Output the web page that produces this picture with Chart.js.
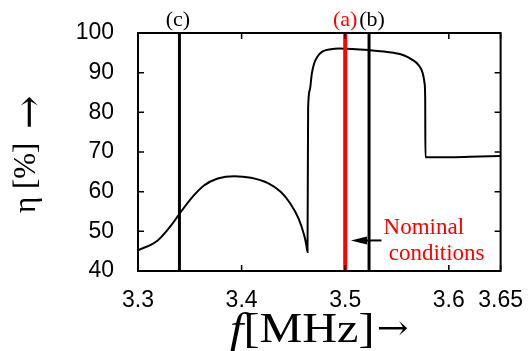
<!DOCTYPE html>
<html>
<head>
<meta charset="utf-8">
<script src="https://cdn.jsdelivr.net/npm/chart.js@4.4.1/dist/chart.umd.min.js"></script>
<style>
  html, body { margin: 0; padding: 0; background: #fff; }
  #wrap { width: 531px; height: 351px; }
</style>
</head>
<body>
<div id="wrap"><canvas id="effChart" width="531" height="351"></canvas></div>
<script>
// efficiency curve
const freq = [3.300, 3.319, 3.332, 3.340, 3.351, 3.364, 3.377, 3.393, 3.409, 3.425,
              3.438, 3.447, 3.455, 3.4604, 3.4625, 3.4636, 3.4642, 3.4658, 3.4678, 3.4700,
              3.4731, 3.4779, 3.4860, 3.4940, 3.523, 3.5468, 3.5564, 3.5644, 3.5708, 3.5749,
              3.5766, 3.5772, 3.5774, 3.600, 3.620, 3.650];
const eta  = [45.2, 47.7, 51.5, 54.4, 58.2, 61.6, 63.3, 63.9, 63.5, 62.2,
              59.9, 57.0, 53.2, 49.0, 46.5, 44.8, 81.0, 85.6, 89.8, 92.3,
              94.0, 95.3, 95.9, 96.1, 95.7, 95.0, 94.4, 93.3, 91.9, 89.8,
              87.3, 83.5, 68.7, 68.7, 68.8, 69.0];

// marker lines (a), (b), (c)
const markerLabels = ["(a)", "(b)", "(c)"];
const markerFreqs = [3.5, 3.523, 3.34];

const xTicks = [3.3, 3.4, 3.5, 3.6, 3.65];
const yMin = 40, yMax = 100, yStep = 10;

// annotation "Nominal conditions"
const noteLines = ["Nominal", "conditions"];
const noteFreqs = [3.537, 3.542];
const noteEtas = [49.4, 42.65];
const arrowFrom = 3.535, arrowTo = 3.5055, arrowEta = 47.7;

const curve = freq.map((f, i) => ({ x: f, y: eta[i] }));
const vline = f => [{ x: f, y: yMin }, { x: f, y: yMax }];

const serif = '"Liberation Serif", "Times New Roman", serif';
const arrowFont = '"DejaVu Serif", serif';
const sans = '"Liberation Sans", Arial, sans-serif';

const extras = {
  id: "extras",
  afterDraw(chart) {
    const { ctx, chartArea: a, scales: { x, y } } = chart;
    ctx.save();

    // inward ticks on all four sides
    ctx.strokeStyle = "#000";
    ctx.lineWidth = 1.5;
    ctx.beginPath();
    x.ticks.forEach(t => {
      const px = x.getPixelForValue(t.value);
      ctx.moveTo(px, a.bottom); ctx.lineTo(px, a.bottom - 6);
      ctx.moveTo(px, a.top); ctx.lineTo(px, a.top + 6);
    });
    y.ticks.forEach(t => {
      const py = y.getPixelForValue(t.value);
      ctx.moveTo(a.left, py); ctx.lineTo(a.left + 6, py);
      ctx.moveTo(a.right, py); ctx.lineTo(a.right - 6, py);
    });
    ctx.stroke();

    // frame
    ctx.lineWidth = 2;
    ctx.strokeRect(a.left, a.top, a.right - a.left, a.bottom - a.top);

    // marker labels above the frame
    ctx.font = "22px " + serif;
    ctx.textAlign = "center";
    ctx.textBaseline = "alphabetic";
    const labelShift = [0, 3, -1.5];
    markerLabels.forEach((lab, i) => {
      ctx.fillStyle = i === 0 ? "#ff0000" : "#000";
      ctx.fillText(lab, x.getPixelForValue(markerFreqs[i]) + labelShift[i], 26);
    });

    // arrow pointing at the nominal line
    const ax0 = x.getPixelForValue(arrowFrom);
    const ax1 = x.getPixelForValue(arrowTo);
    const ay = y.getPixelForValue(arrowEta);
    ctx.strokeStyle = "#000";
    ctx.fillStyle = "#000";
    ctx.lineWidth = 2;
    ctx.beginPath();
    ctx.moveTo(ax0, ay); ctx.lineTo(ax1 + 8, ay);
    ctx.stroke();
    ctx.beginPath();
    ctx.moveTo(ax1, ay);
    ctx.lineTo(ax1 + 16, ay - 4);
    ctx.lineTo(ax1 + 16, ay + 4);
    ctx.closePath();
    ctx.fill();

    // note text
    ctx.fillStyle = "#ff0000";
    ctx.font = "23px " + serif;
    ctx.textAlign = "left";
    noteLines.forEach((txt, i) => {
      ctx.fillText(txt, x.getPixelForValue(noteFreqs[i]), y.getPixelForValue(noteEtas[i]));
    });

    // y axis title: reads bottom to top, starts at y=213
    ctx.fillStyle = "#000";
    ctx.save();
    ctx.translate(35, 213);
    ctx.rotate(-Math.PI / 2);
    ctx.font = "31px " + serif;
    ctx.textAlign = "left";
    ctx.textBaseline = "alphabetic";
    ctx.fillText("\u03b7 [%]", 0, 0);
    ctx.font = "40px " + arrowFont;
    ctx.textBaseline = "middle";
    ctx.fillText("\u2192", 84, -3);
    ctx.restore();

    // x axis title, italic f, slightly wide type
    ctx.save();
    ctx.translate(230, 342);
    ctx.scale(1.12, 1);
    ctx.textAlign = "left";
    ctx.textBaseline = "alphabetic";
    ctx.font = "italic 43px " + serif;
    const wF = ctx.measureText("f").width;
    ctx.fillText("f", 0, 0);
    ctx.font = "43px " + serif;
    const rest = "[MHz]";
    ctx.fillText(rest, wF, 0);
    const wR = ctx.measureText(rest).width;
    ctx.font = "34px " + arrowFont;
    ctx.textBaseline = "middle";
    ctx.fillText("\u2192", wF + wR + 2, -12);
    ctx.restore();

    ctx.restore();
  }
};

const ctx = document.getElementById("effChart").getContext("2d");
new Chart(ctx, {
  type: "scatter",
  data: {
    datasets: [
      { data: vline(markerFreqs[0]), borderColor: "#ff0000", borderWidth: 4 },
      { data: vline(markerFreqs[1]), borderColor: "#000", borderWidth: 3 },
      { data: vline(markerFreqs[2]), borderColor: "#000", borderWidth: 3 },
      { data: curve, borderColor: "#000", borderWidth: 2, cubicInterpolationMode: "monotone" }
    ].map(d => Object.assign({ showLine: true, pointRadius: 0, fill: false }, d))
  },
  options: {
    responsive: false,
    animation: false,
    events: [],
    layout: { padding: { left: 0, right: 22, top: 33, bottom: 0 } },
    plugins: { legend: { display: false }, tooltip: { enabled: false } },
    scales: {
      x: {
        type: "linear",
        min: 3.3, max: 3.65,
        afterBuildTicks: s => { s.ticks = xTicks.map(v => ({ value: v })); },
        afterFit: s => { s.height = 80; },
        grid: { display: false },
        border: { display: false },
        ticks: {
          color: "#000", padding: 8,
          font: { family: sans, size: 23 },
          maxRotation: 0, autoSkip: false,
          callback: v => String(v)
        }
      },
      y: {
        min: yMin, max: yMax,
        afterFit: s => { s.width = 138; },
        grid: { display: false },
        border: { display: false },
        ticks: {
          stepSize: yStep, color: "#000", padding: 16,
          font: { family: sans, size: 23 }
        }
      }
    }
  },
  plugins: [extras]
});
</script>
</body>
</html>
